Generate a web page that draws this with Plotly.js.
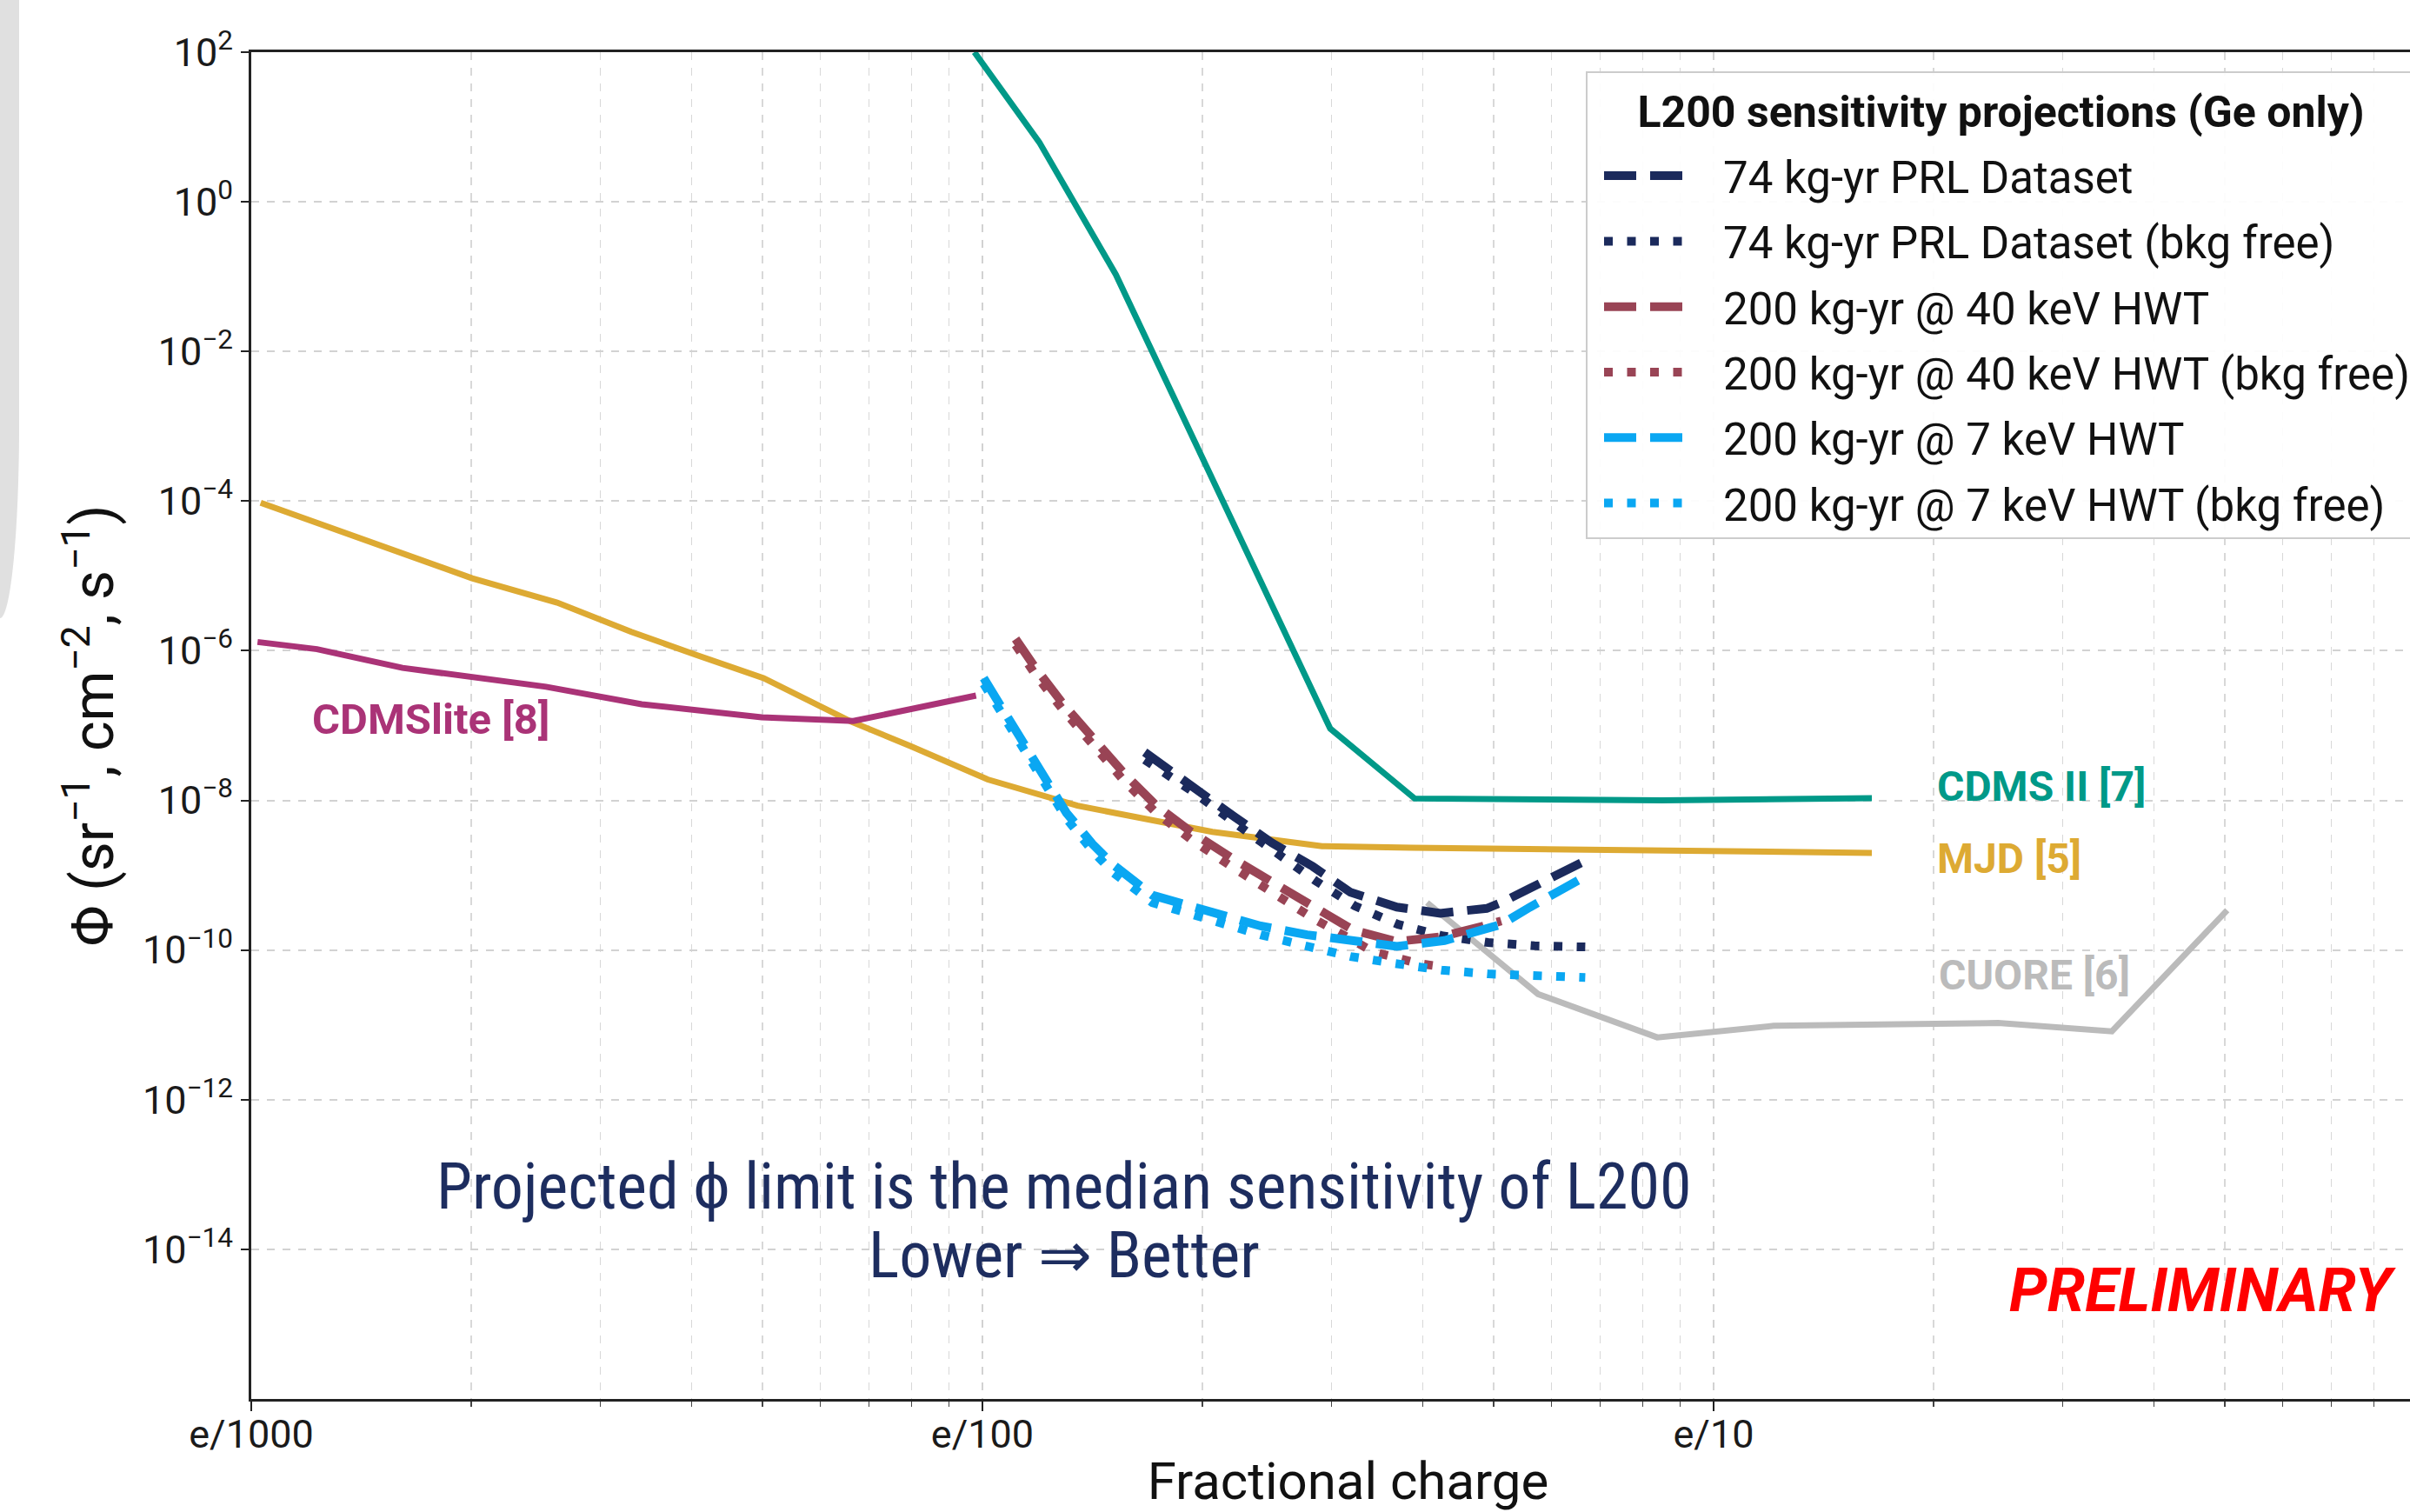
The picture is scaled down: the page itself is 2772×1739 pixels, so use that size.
<!DOCTYPE html>
<html>
<head>
<meta charset="utf-8">
<script src="https://cdn.plot.ly/plotly-3.0.1.min.js"></script>
<style>
html,body{margin:0;padding:0;background:#ffffff;overflow:hidden;}
#wrap{position:relative;width:2772px;height:1739px;overflow:hidden;background:#ffffff;}
#chart{position:absolute;left:0;top:0;width:2900px;height:1739px;}
#deco{position:absolute;left:0;top:0;width:22px;height:711px;background:#e0e0e0;border-bottom-right-radius:22px 222px;z-index:5;}
</style>
</head>
<body>
<div id="wrap"><div id="chart"></div><div id="deco"></div></div>
<script>
// ---- Data (x = fractional charge in units of e, y = flux) ----
const cdmsIIX = [0.00975, 0.01196, 0.01522, 0.0299, 0.039, 0.085, 0.1646];
const cdmsIIY = [1e2, 6.25, 0.107, 9.1e-8, 1.06e-8, 1.0e-8, 1.07e-8];

const mjdX = [0.00103, 0.001439, 0.002005, 0.00262, 0.00331, 0.00406, 0.00502, 0.00661, 0.00798, 0.01017, 0.01349, 0.02063, 0.02914, 0.03867, 0.0944, 0.1646];
const mjdY = [9.5e-5, 3.0e-5, 9.3e-6, 4.4e-6, 1.79e-6, 8.8e-7, 4.3e-7, 1.13e-7, 5.3e-8, 1.9e-8, 8.5e-9, 3.8e-9, 2.44e-9, 2.33e-9, 2.13e-9, 1.99e-9];

const cdmsliteX = [0.00102, 0.00123, 0.00161, 0.00253, 0.00342, 0.00499, 0.00666, 0.0098];
const cdmsliteY = [1.31e-6, 1.05e-6, 5.9e-7, 3.3e-7, 1.93e-7, 1.29e-7, 1.15e-7, 2.52e-7];

const cuoreX = [0.04056, 0.05753, 0.08374, 0.1208, 0.2449, 0.3505, 0.504];
const cuoreY = [4.3e-10, 2.58e-11, 6.8e-12, 9.7e-12, 1.06e-11, 8.2e-12, 3.4e-10];

const prlX = [0.01667, 0.01965, 0.02213, 0.0249, 0.0283, 0.03187, 0.03688, 0.04229, 0.04894, 0.05123, 0.05561, 0.06261, 0.06675];
const prlY = [4.4e-8, 1.45e-8, 6.0e-9, 2.7e-9, 1.31e-9, 5.9e-10, 3.75e-10, 3.1e-10, 3.6e-10, 4.3e-10, 6.4e-10, 1.2e-9, 1.56e-9];

const prlFreeX = [0.01667, 0.01965, 0.02213, 0.02537, 0.02856, 0.03229, 0.03703, 0.04266, 0.04916, 0.05689, 0.06675];
const prlFreeY = [3.5e-8, 1.2e-8, 5.0e-9, 1.87e-9, 8.4e-10, 3.9e-10, 2.2e-10, 1.54e-10, 1.26e-10, 1.14e-10, 1.1e-10];

const hwt40X = [0.0111, 0.01178, 0.0129, 0.01415, 0.01564, 0.01729, 0.01929, 0.02193, 0.02514, 0.0283, 0.03216, 0.03688, 0.04229, 0.04894, 0.05123];
const hwt40Y = [1.44e-6, 6.15e-7, 1.93e-7, 6.6e-8, 2.27e-8, 8.5e-9, 3.8e-9, 1.7e-9, 7.7e-10, 4.1e-10, 1.84e-10, 1.3e-10, 1.5e-10, 2.15e-10, 2.45e-10];

const hwt40FreeX = [0.0111, 0.01178, 0.0129, 0.01415, 0.01564, 0.01729, 0.01929, 0.02193, 0.02503, 0.02843, 0.03216, 0.03427, 0.03688, 0.0395, 0.04246];
const hwt40FreeY = [1.2e-6, 5.0e-7, 1.6e-7, 5.4e-8, 1.8e-8, 6.8e-9, 3.0e-9, 1.3e-9, 5.6e-10, 2.6e-10, 1.34e-10, 9.4e-11, 7.9e-11, 6.6e-11, 6.0e-11];

const hwt7X = [0.01004, 0.01056, 0.01136, 0.01222, 0.01303, 0.01415, 0.01507, 0.01708, 0.02063, 0.02401, 0.0278, 0.03216, 0.03688, 0.04285, 0.04894, 0.05123, 0.0561, 0.06377, 0.06675];
const hwt7Y = [4.3e-7, 1.9e-7, 6.0e-8, 1.85e-8, 6.8e-9, 2.6e-9, 1.4e-9, 5.4e-10, 3.1e-10, 2.1e-10, 1.6e-10, 1.29e-10, 1.12e-10, 1.34e-10, 1.92e-10, 2.2e-10, 3.75e-10, 7.7e-10, 9.6e-10];

const hwt7FreeX = [0.01004, 0.01056, 0.01136, 0.01222, 0.01303, 0.01415, 0.01507, 0.01708, 0.02063, 0.02401, 0.02754, 0.03187, 0.0367, 0.04246, 0.04916, 0.05689, 0.06675];
const hwt7FreeY = [3.6e-7, 1.6e-7, 5.0e-8, 1.55e-8, 5.7e-9, 2.1e-9, 1.1e-9, 4.3e-10, 2.4e-10, 1.6e-10, 1.15e-10, 8.2e-11, 6.6e-11, 5.4e-11, 4.8e-11, 4.5e-11, 4.3e-11];

// ---- Ticks ----
const xTickVals = [0.001, 0.01, 0.1];
const xTickText = ['e/1000', 'e/100', 'e/10'];
const yTickVals = [1e2, 1e0, 1e-2, 1e-4, 1e-6, 1e-8, 1e-10, 1e-12, 1e-14];
const yTickText = ['10<sup>2</sup>', '10<sup>0</sup>', '10<sup>−2</sup>', '10<sup>−4</sup>', '10<sup>−6</sup>', '10<sup>−8</sup>', '10<sup>−10</sup>', '10<sup>−12</sup>', '10<sup>−14</sup>'];
const xMinorVals = [];
[0.001, 0.01, 0.1].forEach(d => { for (let k = 2; k <= 9; k++) xMinorVals.push(k * d); });

// ---- Colours ----
const C = {
  cdmsII: '#009988', mjd: '#DDAA33', cdmslite: '#AA3377', cuore: '#BBBBBB',
  prl: '#1b2a5c', hwt40: '#994455', hwt7: '#0aa7f2', note: '#1d2d5f'
};
const DASH = '37px,16px';
const DOT = '10px,16.5px';

function solid(name, x, y, color) {
  return {x, y, name, type: 'scatter', mode: 'lines', showlegend: false,
          line: {color, width: 7}, hoverinfo: 'name'};
}
function proj(name, x, y, color, dash, grp) {
  return {x, y, name, type: 'scatter', mode: 'lines', legendgroup: grp,
          line: {color, width: 10, dash}, hoverinfo: 'name'};
}

const traces = [
  solid('CDMS II [7]', cdmsIIX, cdmsIIY, C.cdmsII),
  solid('MJD [5]', mjdX, mjdY, C.mjd),
  solid('CDMSlite [8]', cdmsliteX, cdmsliteY, C.cdmslite),
  solid('CUORE [6]', cuoreX, cuoreY, C.cuore),
  proj('74 kg-yr PRL Dataset', prlX, prlY, C.prl, DASH, 'g1'),
  proj('74 kg-yr PRL Dataset (bkg free)', prlFreeX, prlFreeY, C.prl, DOT, 'g2'),
  proj('200 kg-yr @ 40 keV HWT', hwt40X, hwt40Y, C.hwt40, DASH, 'g3'),
  proj('200 kg-yr @ 40 keV HWT (bkg free)', hwt40FreeX, hwt40FreeY, C.hwt40, DOT, 'g4'),
  proj('200 kg-yr @ 7 keV HWT', hwt7X, hwt7Y, C.hwt7, DASH, 'g5'),
  proj('200 kg-yr @ 7 keV HWT (bkg free)', hwt7FreeX, hwt7FreeY, C.hwt7, DOT, 'g6')
];

const L = Math.log10;
function label(text, x, y, color, size, extra) {
  return Object.assign({text, x: L(x), y: L(y), xref: 'x', yref: 'y', showarrow: false,
    xanchor: 'left', yanchor: 'middle',
    font: {family: 'Roboto, sans-serif', size, color, weight: 700}}, extra || {});
}
const noteFont = {family: '"Liberation Sans Narrow", "Roboto Condensed", Roboto, sans-serif', size: 74, color: C.note};

const legendTitle = 'L200 sensitivity projections (Ge only)';

const layout = {
  width: 2900, height: 1739,
  margin: {l: 289, r: 88, t: 60, b: 130},
  paper_bgcolor: '#ffffff', plot_bgcolor: '#ffffff',
  font: {family: 'Roboto, sans-serif', color: '#1a1a1a'},
  xaxis: {
    type: 'log', range: [-3, 0], automargin: false,
    tickmode: 'array', tickvals: xTickVals, ticktext: xTickText,
    ticks: 'outside', ticklen: 11, tickwidth: 2, tickcolor: '#222',
    ticklabelstandoff: -12,
    tickfont: {size: 45, color: '#1a1a1a'},
    showline: true, linecolor: '#222', linewidth: 3, mirror: true,
    showgrid: true, gridcolor: '#d2d2d2', gridwidth: 2, griddash: 'dash',
    minor: {tickmode: 'array', tickvals: xMinorVals, ticks: 'outside', ticklen: 6, tickwidth: 1.5, tickcolor: '#444',
            showgrid: true, gridcolor: '#d8d8d8', gridwidth: 1.5, griddash: 'dash'},
    zeroline: false,
    title: {text: 'Fractional charge', font: {size: 60, color: '#111'}, standoff: 36}
  },
  yaxis: {
    type: 'log', range: [-16, 2], automargin: false,
    tickmode: 'array', tickvals: yTickVals, ticktext: yTickText,
    ticks: 'outside', ticklen: 9, tickwidth: 2, tickcolor: '#222',
    tickfont: {size: 45, color: '#1a1a1a'},
    showline: true, linecolor: '#222', linewidth: 3, mirror: false,
    showgrid: true, gridcolor: '#d2d2d2', gridwidth: 2, griddash: 'dash',
    zeroline: false,
    title: {text: 'Φ (sr<sup>−1</sup>, cm<sup>−2</sup>, s<sup>−1</sup>)', font: {size: 66, color: '#111'}, standoff: 12}
  },
  legend: {
    x: 0.6084, y: 0.9855, xanchor: 'left', yanchor: 'top',
    bgcolor: 'rgba(255,255,255,0.92)', bordercolor: '#cccccc', borderwidth: 2,
    font: {size: 51, color: '#111'},
    itemwidth: 146,
    traceorder: 'grouped', tracegroupgap: 6,
    title: {text: '<span style="font-size:38px"><sup><span style="font-size:50px">' + legendTitle + '</span></sup></span>',
            side: 'top center', font: {size: 60, color: '#111', weight: 700}}
  },
  annotations: [
    label('CDMS II [7]', 0.2009, Math.pow(10, -7.813), C.cdmsII, 48),
    label('MJD [5]', 0.2009, Math.pow(10, -8.783), C.mjd, 48),
    label('CUORE [6]', 0.2021, Math.pow(10, -10.34), C.cuore, 48),
    label('CDMSlite [8]', 0.001205, Math.pow(10, -6.924), C.cdmslite, 49),
    label('PRELIMINARY', 0.8628, Math.pow(10, -14.547), '#ff0000', 70,
          {xanchor: 'right', font: {family: 'Roboto, sans-serif', size: 70, color: '#ff0000', weight: 700, style: 'italic'}}),
    {text: 'Projected ϕ limit is the median sensitivity of L200', x: L(0.01294), y: -13.164,
     xref: 'x', yref: 'y', showarrow: false, xanchor: 'center', yanchor: 'middle', font: noteFont},
    {text: 'Lower ⇒ Better', x: L(0.01294), y: -14.082,
     xref: 'x', yref: 'y', showarrow: false, xanchor: 'center', yanchor: 'middle', font: noteFont}
  ]
};

Plotly.newPlot('chart', traces, layout, {staticPlot: true, displayModeBar: false}).then(gd => {
  // lengthen the legend line samples to the reference's ~92px, starting 20px inside the legend box
  const box = gd.querySelector('.legend .bg');
  const chartLeft = gd.getBoundingClientRect().left;
  const boxLeft = box ? box.getBoundingClientRect().left - chartLeft : 1824;
  gd.querySelectorAll('.legend .legendlines path').forEach(p => {
    const d = p.getAttribute('d') || '';
    const m = /^M\s*([-\d.]+)\s*,\s*([-\d.]+)\s*h/.exec(d);
    if (!m) return;
    const x0 = parseFloat(m[1]);
    const r = p.getBoundingClientRect();
    const cur = r.left - chartLeft;
    const nx = x0 + (boxLeft + 20 - cur);
    p.setAttribute('d', 'M' + nx + ',' + m[2] + 'h92');
  });
});
</script>
</body>
</html>
